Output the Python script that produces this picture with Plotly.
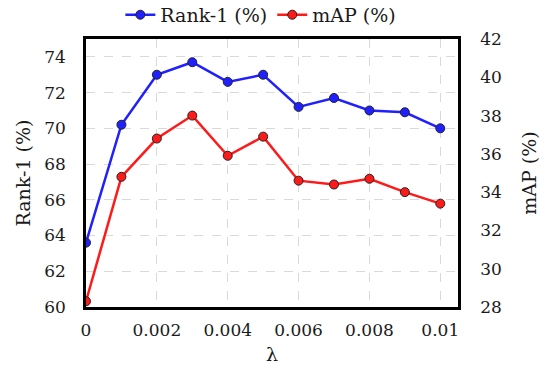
import plotly.graph_objects as go

lam = [0, 0.001, 0.002, 0.003, 0.004, 0.005, 0.006, 0.007, 0.008, 0.009, 0.01]
rank1 = [63.6, 70.2, 73.0, 73.7, 72.6, 73.0, 71.2, 71.7, 71.0, 70.9, 70.0]
mAP = [28.3, 34.8, 36.8, 38.0, 35.9, 36.9, 34.6, 34.4, 34.7, 34.0, 33.4]
x_ticks = [0, 0.002, 0.004, 0.006, 0.008, 0.01]
x_ticktext = ["0", "0.002", "0.004", "0.006", "0.008", "0.01"]
left_ticks = [60, 62, 64, 66, 68, 70, 72, 74]
right_ticks = [28, 30, 32, 34, 36, 38, 40, 42]

FONT = "DejaVu Serif"
TXT = "#1a1a1a"

fig = go.Figure()
fig.add_trace(go.Scatter(
    x=lam, y=rank1, name="Rank-1 (%)", mode="lines+markers",
    line=dict(color="#2020ff", width=2.5),
    marker=dict(size=9, color="#2020ff", line=dict(color="#222222", width=1)),
    yaxis="y"))
fig.add_trace(go.Scatter(
    x=lam, y=mAP, name="mAP (%)", mode="lines+markers",
    line=dict(color="#ff1a1a", width=2.5),
    marker=dict(size=9, color="#ff1a1a", line=dict(color="#222222", width=1)),
    yaxis="y2"))

fig.update_layout(
    width=549, height=365,
    margin=dict(l=86, r=91, t=39, b=58, autoexpand=False),
    paper_bgcolor="white", plot_bgcolor="white",
    font=dict(family=FONT, size=17, color=TXT),
    showlegend=True,
    legend=dict(orientation="h", x=0.47, xanchor="center", y=1.09, yref="paper",
                yanchor="middle", font=dict(family=FONT, size=19, color=TXT),
                itemwidth=30, tracegroupgap=0, bgcolor="rgba(0,0,0,0)"),
    xaxis=dict(range=[0, 0.0105], tickvals=x_ticks, ticktext=x_ticktext,
               showline=True, linecolor="black", linewidth=2.5, mirror=True,
               showgrid=True, gridcolor="#d9d9d9", griddash="dash", gridwidth=1,
               ticks="", zeroline=False, automargin=False, ticklabelstandoff=6,
               title=dict(text="λ", font=dict(family=FONT, size=19, color=TXT), standoff=9),
               tickfont=dict(family=FONT, size=17, color=TXT)),
    yaxis=dict(range=[60, 75], tickvals=left_ticks,
               showline=True, linecolor="black", linewidth=2.5,
               showgrid=True, gridcolor="#d9d9d9", griddash="dash", gridwidth=1,
               ticks="", zeroline=False, automargin=False, ticklabelstandoff=14,
               title=dict(text="Rank-1 (%)", font=dict(family=FONT, size=19, color=TXT), standoff=9),
               tickfont=dict(family=FONT, size=17, color=TXT)),
    yaxis2=dict(range=[28, 42], tickvals=right_ticks, overlaying="y", side="right",
                showline=True, linecolor="black", linewidth=2.5,
                showgrid=False, ticks="", zeroline=False, automargin=False,
                ticklabelstandoff=16,
                title=dict(text="mAP (%)", font=dict(family=FONT, size=19, color=TXT), standoff=22),
                tickfont=dict(family=FONT, size=17, color=TXT)),
)

fig.write_html("out.html", config={"displayModeBar": False},
               post_script="document.body.style.margin='0';document.body.style.overflow='hidden';")
